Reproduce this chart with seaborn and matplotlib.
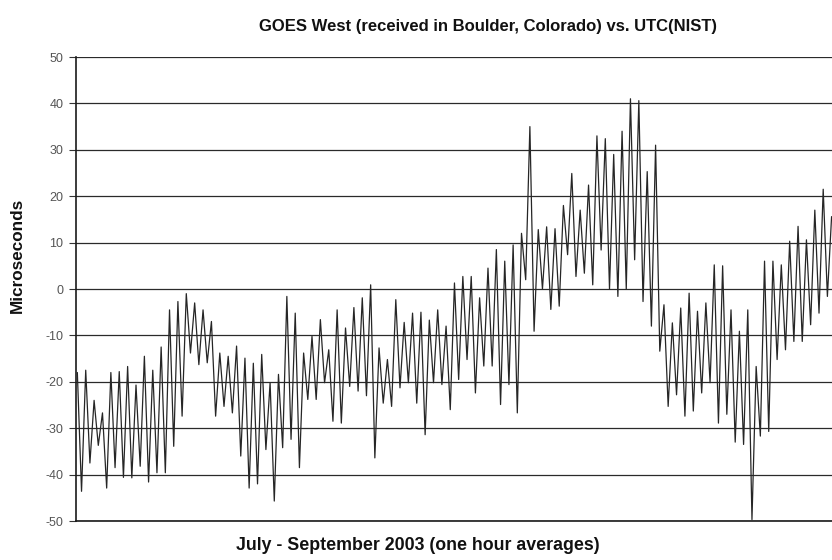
import numpy as np
import pandas as pd
import seaborn as sns
import matplotlib
matplotlib.use("Agg")
from matplotlib import pyplot as plt

july_us = [-18, -43.6, -17.5, -37.5, -24, -33.7, -26.7, -42.9, -18, -38.5,
           -17.8, -40.6, -16.7, -40.7, -20.7, -38.2, -14.5, -41.6, -17.5, -39.6,
           -12.5, -39.6, -4.5, -33.9, -2.7, -27.4, -1, -13.8, -3, -16.3,
           -4.5, -15.9, -7, -27.4, -13.8, -25.3, -14.5, -26.7, -12.3, -36,
           -14.9, -42.9, -16, -42, -14.1, -34.6, -20.2, -45.7, -18.4, -34.2,
           -1.6, -32.4, -5.2, -38.5, -13.8, -23.8, -10.2, -23.8, -6.6, -20.2]
august_us = [-13.1, -28.5, -4.5, -28.9, -8.4, -21, -4, -22, -1.9, -23,
             0.9, -36.4, -12.7, -24.6, -15.2, -25.3, -2.3, -21.3, -7.2, -20.2,
             -5.2, -24.6, -5, -31.4, -6.7, -20.2, -4.5, -20.6, -8, -26,
             1.3, -19.5, 2.7, -15.2, 2.7, -22.4, -1.9, -16.6, 4.5, -16.6,
             8.5, -24.9, 6, -20.6, 9.5, -26.7, 12, 2, 35, -9.1,
             12.8, 0, 13.4, -4.4, 13, -3.7, 18, 7.4, 24.9, 2.7]
september_us = [17, 3.4, 22.4, 0.9, 33, 8.4, 32.4, 0, 29, -1.6,
                34, 0, 41, 6.3, 40.6, -2.7, 25.3, -8, 31, -13.4,
                -3.4, -25.3, -7.3, -22.8, -4.1, -27.4, -0.9, -26.3, -4.8, -22.4,
                -3, -20.2, 5.2, -28.9, 5, -27, -4.5, -33, -9.1, -33.5,
                -4.5, -49.7, -16.7, -31.7, 6, -30.7, 6, -15.2, 5.2, -13.1,
                10.3, -11.3, 13.5, -11.3, 10.6, -7.7, 17, -5.2, 21.5, -1.6, 15.6]
y_ticks = list(range(-50, 51, 10))

offset = july_us + august_us + september_us
df = pd.DataFrame({"day": np.arange(len(offset)) * 0.5, "us": offset})

sns.set_theme(style="white")
plt.rcParams["font.family"] = ["Liberation Sans", "DejaVu Sans"]

fig = plt.figure(figsize=(8.32, 5.6), dpi=100)
ax = fig.add_axes([76 / 832, 1 - 521 / 560, 1 - 76 / 832, 464 / 560])

for v in y_ticks:
    ax.axhline(v, color="#2a2a2a", lw=0.9, zorder=1)

sns.lineplot(data=df, x="day", y="us", ax=ax, color="#262626", lw=0.9, zorder=3)

ax.set_xlim(-0.16, 90.05)
ax.set_ylim(-50, 50)
ax.set_yticks(y_ticks)
ax.set_yticklabels([str(v) for v in y_ticks], fontsize=9, color="#555555")
ax.set_xticks([])
ax.tick_params(axis="y", left=True, length=5, width=0.8, color="#333333", pad=4)
ax.set_xlabel("")
ax.set_ylabel("")
for side in ["top", "right"]:
    ax.spines[side].set_visible(False)
for side in ["left", "bottom"]:
    ax.spines[side].set_color("#1a1a1a")
    ax.spines[side].set_linewidth(1.2)

fig.text(488 / 832, 1 - 27 / 560, "GOES West (received in Boulder, Colorado) vs. UTC(NIST)",
         ha="center", va="center", fontsize=12, fontweight="bold", color="#111111")
fig.text(418 / 832, 1 - 546 / 560, "July - September 2003 (one hour averages)",
         ha="center", va="center", fontsize=12.8, fontweight="bold", color="#111111")
fig.text(17 / 832, 1 - 255 / 560, "Microseconds", rotation=90,
         ha="center", va="center", fontsize=12.3, fontweight="bold", color="#111111")

fig.savefig("out.png", dpi=100)
